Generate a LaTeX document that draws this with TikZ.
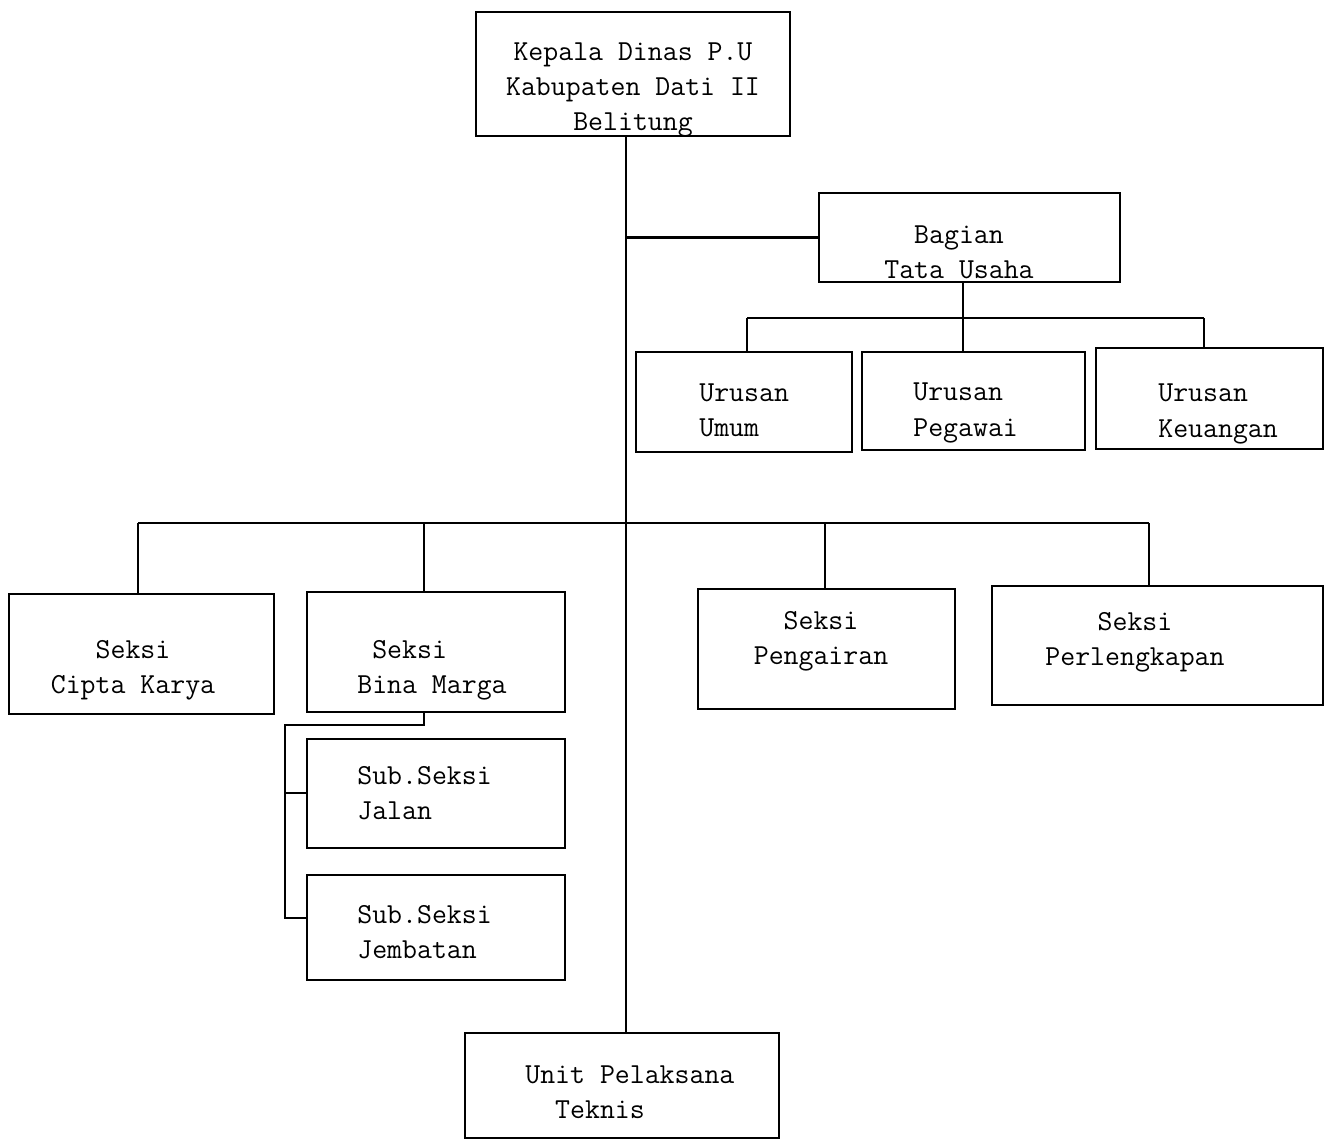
\documentclass[tikz,border=0pt]{standalone}
\usepackage{fontspec}
\usetikzlibrary{fit}
\begin{document}
\begin{tikzpicture}[
  x=0.02cm, y=-0.02cm,
  box/.style={draw, line width=1.3pt, inner sep=0pt},
  txt/.style={font=\ttfamily\fontsize{16.5}{20}\selectfont, inner sep=0pt},
  link/.style={line width=1.3pt},
]
  \useasboundingbox (0,0) rectangle (1326,1140);

  % Boxes
  \node[box, fit={(476,12) (790,136)}] (kepala) {};
  \node[box, fit={(819,193) (1120,282)}] (bagian) {};
  \node[box, fit={(636,352) (852,452)}] (umum) {};
  \node[box, fit={(862,352) (1085,450)}] (pegawai) {};
  \node[box, fit={(1096,348) (1323,449)}] (keuangan) {};
  \node[box, fit={(9,594) (274,714)}] (cipta) {};
  \node[box, fit={(307,592) (565,712)}] (bina) {};
  \node[box, fit={(698,589) (955,709)}] (pengairan) {};
  \node[box, fit={(992,586) (1323,705)}] (perleng) {};
  \node[box, fit={(307,739) (565,848)}] (jalan) {};
  \node[box, fit={(307,875) (565,980)}] (jembatan) {};
  \node[box, fit={(465,1033) (779,1138)}] (upt) {};

  % Texts
  \node[txt, align=center] (kepala-t) at (633,90) {Kepala Dinas P.U\\Kabupaten Dati II\\Belitung};
  \node[txt, align=center] (bagian-t) at (959,252) {Bagian\\Tata Usaha};
  \node[txt, align=left, anchor=west] (umum-t) at (699,410) {Urusan\\Umum};
  \node[txt, align=left, anchor=west] (pegawai-t) at (913,413) {Urusan\\Pegawai};
  \node[txt, align=left, anchor=west] (keuangan-t) at (1158,414) {Urusan\\Keuangan};
  \node[txt, align=center] (cipta-t) at (133,670) {Seksi\\Cipta Karya};
  \node[txt, align=left, anchor=west] (bina-t) at (357,670) {~Seksi\\Bina Marga};
  \node[txt, align=center] (pengairan-t) at (821,641) {Seksi\\Pengairan};
  \node[txt, align=center] (perleng-t) at (1135,642) {Seksi\\Perlengkapan};
  \node[txt, align=left, anchor=west] (jalan-t) at (357,793) {Sub.Seksi\\Jalan};
  \node[txt, align=left, anchor=west] (jembatan-t) at (357,932) {Sub.Seksi\\Jembatan};
  \node[txt, align=left, anchor=west] (upt-t) at (525,1092) {Unit Pelaksana\\~~Teknis};

  % Spine
  \coordinate (spine) at (626,0);
  \draw[link] (kepala.south -| spine) -- (upt.north -| spine);
  \draw[link] (bagian.west) -- (bagian.west -| spine);

  % Urusan branches
  \coordinate (u1) at (747,318);
  \coordinate (u2) at (963,318);
  \coordinate (u3) at (1204,318);
  \draw[link] (u1) -- (u3);
  \draw[link] (bagian.south -| u2) -- (u2);
  \draw[link] (u1) -- (u1 |- umum.north);
  \draw[link] (u2) -- (u2 |- pegawai.north);
  \draw[link] (u3) -- (u3 |- keuangan.north);

  % Seksi branches
  \coordinate (s1) at (138,523);
  \coordinate (s2) at (424,523);
  \coordinate (s3) at (825,523);
  \coordinate (s4) at (1149,523);
  \draw[link] (s1) -- (s4);
  \draw[link] (s1) -- (s1 |- cipta.north);
  \draw[link] (s2) -- (s2 |- bina.north);
  \draw[link] (s3) -- (s3 |- pengairan.north);
  \draw[link] (s4) -- (s4 |- perleng.north);

  % Sub seksi under Bina Marga
  \coordinate (bm) at (424,725);
  \coordinate (sb) at (285,725);
  \coordinate (sj) at (285,793);
  \coordinate (sm) at (285,918);
  \draw[link] (bina.south -| bm) -- (bm) -- (sb) -- (sm) -- (sm -| jembatan.west);
  \draw[link] (sj) -- (sj -| jalan.west);
\end{tikzpicture}
\end{document}
